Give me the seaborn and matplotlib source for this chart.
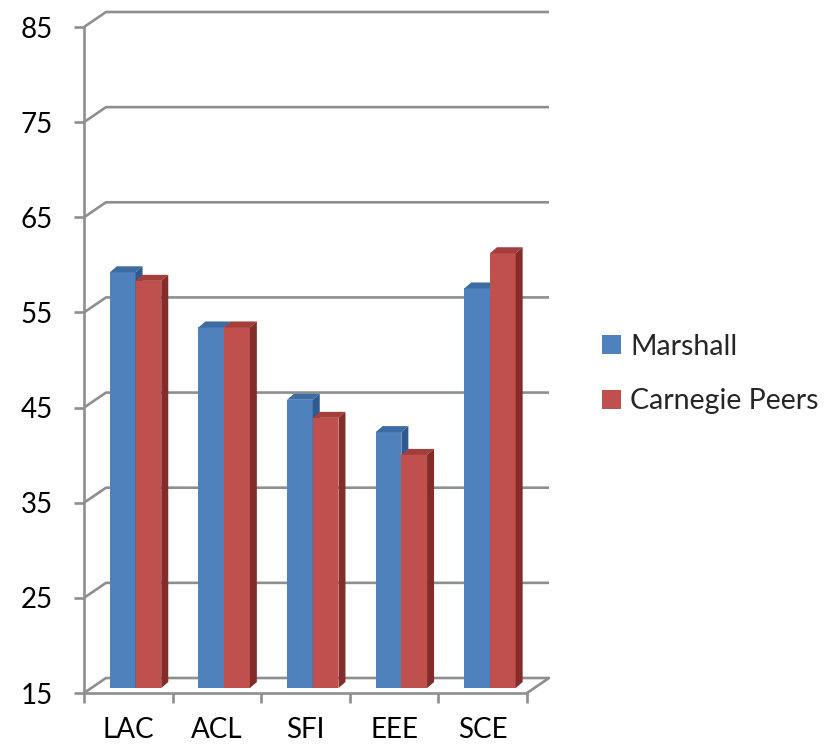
import matplotlib
matplotlib.use("Agg")
import matplotlib.pyplot as plt
import matplotlib.transforms as mtransforms
from matplotlib.patches import Polygon, Patch
import pandas as pd
import seaborn as sns

# Chart data
categories = ["LAC", "ACL", "SFI", "EEE", "SCE"]
series_names = ["Marshall", "Carnegie Peers"]
marshall = [58.7, 52.9, 45.3, 41.9, 57.0]
carnegie_peers = [57.8, 52.9, 43.4, 39.5, 60.7]
y_ticks = [15, 25, 35, 45, 55, 65, 75, 85]

df = pd.DataFrame({
    "category": categories * 2,
    "value": marshall + carnegie_peers,
    "series": [series_names[0]] * len(categories) + [series_names[1]] * len(categories),
})

# Face colours of the pseudo-3D columns
front_colors = {"Marshall": "#4F81BD", "Carnegie Peers": "#C0504D"}
top_colors = {"Marshall": "#3D6BA3", "Carnegie Peers": "#A33E3B"}
side_colors = {"Marshall": "#2F5A8F", "Carnegie Peers": "#842C2A"}
GRID = "#8E8E8E"

sns.set_theme(style="white")
plt.rcParams["font.family"] = ["Lato", "DejaVu Sans"]

DPI = 100
W, H = 836, 748
fig = plt.figure(figsize=(W / DPI, H / DPI), dpi=DPI)
# axes rectangle = front plane of the chart box
ax = fig.add_axes([84 / W, 1 - 693 / H, (527 - 84) / W, (693 - 27) / H])

sns.barplot(data=df, x="category", y="value", hue="series", palette=front_colors,
            width=0.58, saturation=1, ax=ax, legend=False)
ax.set_xlim(-0.5, len(categories) - 0.5)
ax.set_ylim(y_ticks[0], y_ticks[-1])
floor = y_ticks[0]

# depth of the box (pixels) and of each column
WALL_DX, WALL_DY = 22, 15
BAR_POS = 0.33
BAR_DX, BAR_DY = 7, 6
ident = mtransforms.IdentityTransform()
LW = 1.9


def proj(x, y, depth=0.0):
    px, py = ax.transData.transform((x, y))
    return px + depth * WALL_DX, py + depth * WALL_DY


x_lo, x_hi = ax.get_xlim()

# back wall gridlines with their side-wall diagonals
for v in y_ticks:
    a = proj(x_lo, v, 0)
    b = proj(x_lo, v, 1)
    c = proj(x_hi, v, 1)
    ax.plot([a[0], b[0], c[0]], [a[1], b[1], c[1]], color=GRID, lw=LW,
            transform=ident, clip_on=False, zorder=0.5, solid_capstyle="butt")

# floor outline: right diagonal
a = proj(x_hi, floor, 0)
b = proj(x_hi, floor, 1)
ax.plot([a[0], b[0]], [a[1], b[1]], color=GRID, lw=LW, transform=ident,
        clip_on=False, zorder=0.5)

# columns stand on the floor; shift front faces into the box and add top / side faces
shift = mtransforms.ScaledTranslation(BAR_POS * WALL_DX / DPI, BAR_POS * WALL_DY / DPI,
                                      fig.dpi_scale_trans)
for level, (name, container) in enumerate(zip(series_names, ax.containers)):
    for p in container.patches:
        top_val = p.get_y() + p.get_height()
        p.set_y(floor)
        p.set_height(top_val - floor)
        p.set_transform(ax.transData + shift)
        p.set_clip_on(False)
        p.set_edgecolor("none")
        p.set_zorder(2 + level)
        x0, y0 = proj(p.get_x(), floor, BAR_POS)
        x1, y1 = proj(p.get_x() + p.get_width(), top_val, BAR_POS)
        top = Polygon([(x0, y1), (x1, y1), (x1 + BAR_DX, y1 + BAR_DY), (x0 + BAR_DX, y1 + BAR_DY)],
                      closed=True, facecolor=top_colors[name], edgecolor="none",
                      transform=ident, clip_on=False, zorder=2.5 + level)
        side = Polygon([(x1, y0), (x1, y1), (x1 + BAR_DX, y1 + BAR_DY), (x1 + BAR_DX, y0 + BAR_DY)],
                       closed=True, facecolor=side_colors[name], edgecolor="none",
                       transform=ident, clip_on=False, zorder=2.5 + level)
        ax.add_patch(top)
        ax.add_patch(side)

# axes styling
for s in ["top", "right"]:
    ax.spines[s].set_visible(False)
for s in ["left", "bottom"]:
    ax.spines[s].set_color(GRID)
    ax.spines[s].set_linewidth(LW)
    ax.spines[s].set_zorder(0.6)

ax.set_yticks(y_ticks)
ax.set_yticklabels([str(v) for v in y_ticks])
ax.set_xticks(range(len(categories)))
ax.set_xticklabels(categories)
ax.set_xticks([i - 0.5 for i in range(len(categories) + 1)], minor=True)
ax.tick_params(axis="y", which="major", left=True, length=7.5, width=LW, color=GRID,
               direction="out", pad=15, labelsize=20, labelcolor="black")
ax.tick_params(axis="x", which="major", bottom=False, length=0, pad=17,
               labelsize=20, labelcolor="black")
ax.tick_params(axis="x", which="minor", bottom=True, length=7.5, width=LW, color=GRID,
               direction="out")
ax.set_xlabel("")
ax.set_ylabel("")
ax.set_facecolor("none")

handles = [Patch(facecolor=front_colors[s], edgecolor="none") for s in series_names]
fig.legend(handles, series_names, loc="center left", bbox_to_anchor=(602 / W, 1 - 374 / H),
           frameon=False, fontsize=20.5, handlelength=0.65, handleheight=0.65,
           handletextpad=0.35, labelspacing=1.0, borderpad=0, borderaxespad=0)

fig.savefig("out.png", dpi=DPI)
